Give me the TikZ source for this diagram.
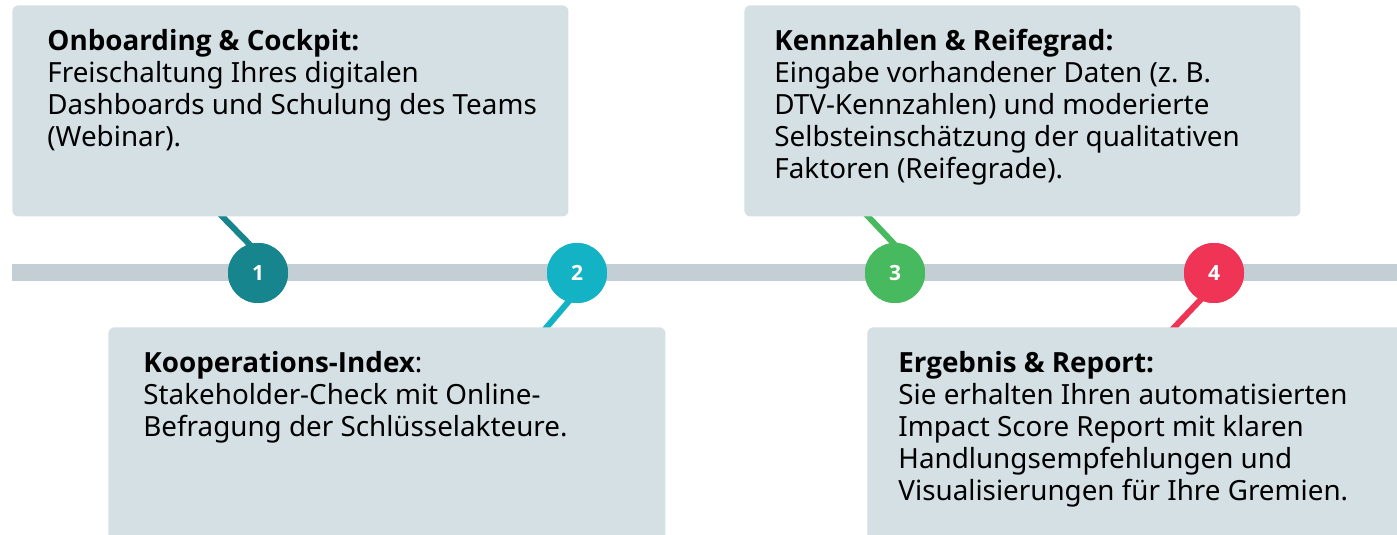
\documentclass[tikz,border=0pt]{standalone}
\usepackage{fontspec}
\setmainfont{Noto Sans}
\newfontfamily\headfont{Open Sans}
\newcommand\headline[1]{{\headfont\bfseries #1}}
\usetikzlibrary{positioning}
\definecolor{panelgray}{HTML}{D5E0E5}
\definecolor{bargray}{HTML}{C3CFD5}
\definecolor{stepteal}{HTML}{17858D}
\definecolor{stepcyan}{HTML}{14B2C5}
\definecolor{stepgreen}{HTML}{47B95E}
\definecolor{stepred}{HTML}{EF3455}

\begin{document}
\begin{tikzpicture}[x=0.5pt,y=-0.5pt,
  panel/.style={fill=panelgray, rounded corners=3pt, anchor=north west, inner sep=0pt},
  paneltext/.style={align=left, inner sep=0pt, font=\fontsize{13.9pt}{16pt}\selectfont},
  stepdot/.style={circle, minimum size=30pt, inner sep=0pt, text=white, font=\headfont\bfseries\fontsize{10.5pt}{11pt}\selectfont},
  link/.style={line width=3pt}]
\clip (0,0) rectangle (1397,535);
\fill[white] (0,0) rectangle (1397,535);

% timeline
\coordinate (tl) at (12,272);
\coordinate (tr) at (1410,272);
\draw[bargray, line width=8.5pt] (tl) -- (tr);

% hidden ends of the links
\coordinate (k1) at (215,209);
\coordinate (k2) at (540,335);
\coordinate (k3) at (861,209);
\coordinate (k4) at (1168,334);

\node[stepdot, fill=stepteal] (c1) at (258,273) {1};
\node[stepdot, fill=stepcyan] (c2) at (577,273) {2};
\node[stepdot, fill=stepgreen] (c3) at (895,273) {3};
\node[stepdot, fill=stepred] (c4) at (1214,273) {4};

\draw[link, stepteal, shorten >=-6pt] (k1) -- (c1.107);
\draw[link, stepcyan, shorten >=-6pt] (k2) -- (c2.253);
\draw[link, stepgreen, shorten >=-6pt] (k3) -- (c3.94);
\draw[link, stepred, shorten >=-6pt] (k4) -- (c4.243);

% boxes
\node[panel, minimum width=278pt, minimum height=105.5pt] (b1) at (12,5) {};
\node[panel, minimum width=278.5pt, minimum height=109pt] (b2) at (108,327) {};
\node[panel, minimum width=278pt, minimum height=105.5pt] (b3) at (744,5) {};
\node[panel, minimum width=280pt, minimum height=109pt] (b4) at (867,327) {};

% redraw dots above the links
\node[stepdot, fill=stepteal] at (c1) {1};
\node[stepdot, fill=stepcyan] at (c2) {2};
\node[stepdot, fill=stepgreen] at (c3) {3};
\node[stepdot, fill=stepred] at (c4) {4};

\node[paneltext, below right=12pt and 17.5pt of b1.north west] (t1)
  {\headline{Onboarding \& Cockpit:}\\
   Freischaltung Ihres digitalen\\
   Dashboards und Schulung des Teams\\
   (Webinar).};
\node[paneltext, below right=12pt and 17.5pt of b2.north west] (t2)
  {\headline{Kooperations-Index}:\\
   Stakeholder-Check mit Online-\\
   Befragung der Schlüsselakteure.};
\node[paneltext, below right=12pt and 15pt of b3.north west] (t3)
  {\headline{Kennzahlen \& Reifegrad:}\\
   Eingabe vorhandener Daten (z.\ B.\\
   DTV-Kennzahlen) und moderierte\\
   Selbsteinschätzung der qualitativen\\
   Faktoren (Reifegrade).};
\node[paneltext, below right=12pt and 15.5pt of b4.north west] (t4)
  {\headline{Ergebnis \& Report:}\\
   Sie erhalten Ihren automatisierten\\
   Impact Score Report mit klaren\\
   Handlungsempfehlungen und\\
   Visualisierungen für Ihre Gremien.};
\end{tikzpicture}
\end{document}
